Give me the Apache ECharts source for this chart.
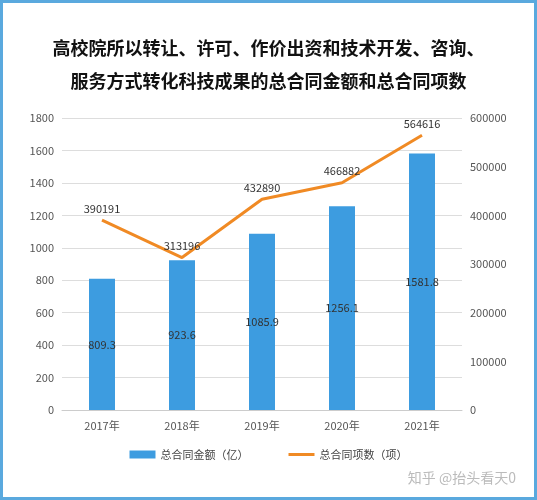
<!DOCTYPE html>
<html><head><meta charset="utf-8">
<script src="https://cdn.jsdelivr.net/npm/echarts@6/dist/echarts.min.js"></script>
<style>html,body{margin:0;padding:0;background:#fff}
#c{width:531px;height:494px;border:3px solid #5aa9de}</style></head>
<body><div id="c"></div>
<script>
const categories=['2017年','2018年','2019年','2020年','2021年'];
const amounts=[809.3,923.6,1085.9,1256.1,1581.8];
const counts=[390191,313196,432890,466882,564616];
const leftTicks=[0,1800,200];
const rightTicks=[0,600000,100000];
const ch=echarts.init(document.getElementById('c'));
const font='"Noto Sans CJK SC","Noto Sans",sans-serif';
ch.setOption({
 textStyle:{fontFamily:font},
 title:{text:'高校院所以转让、许可、作价出资和技术开发、咨询、\n服务方式转化科技成果的总合同金额和总合同项数',left:'center',top:24,
  textStyle:{fontSize:18,fontWeight:'bold',color:'#111',lineHeight:33,fontFamily:font}},
 grid:{left:59,right:72,top:115,bottom:87},
 legend:{bottom:32,itemGap:40,textStyle:{fontSize:11,color:'#444'},
  data:[{name:'总合同金额（亿）',icon:'rect'},{name:'总合同项数（项）',icon:'path://M0,0H26V3H0Z',itemStyle:{color:'#f08a24'}}],itemWidth:26,itemHeight:8},
 xAxis:{type:'category',data:categories,axisTick:{show:false},axisLine:{lineStyle:{color:'#ccc'}},
  axisLabel:{color:'#555',fontSize:11,margin:10}},
 yAxis:[{type:'value',min:leftTicks[0],max:leftTicks[1],interval:leftTicks[2],axisLabel:{color:'#555',fontSize:11,formatter:v=>String(v)},
   splitLine:{lineStyle:{color:'#ddd'}}},
  {type:'value',min:rightTicks[0],max:rightTicks[1],interval:rightTicks[2],axisLabel:{color:'#555',fontSize:11,formatter:v=>String(v)},splitLine:{show:false}}],
 series:[{name:'总合同金额（亿）',type:'bar',data:amounts,barWidth:26,itemStyle:{color:'#3d9ce0'},
   label:{show:true,position:'inside',color:'#333',fontSize:11}},
  {name:'总合同项数（项）',type:'line',yAxisIndex:1,data:counts,symbol:'circle',symbolSize:0.1,lineStyle:{color:'#f08a24',width:3},
   itemStyle:{color:'#f08a24'},label:{show:true,position:'top',distance:6,color:'#333',fontSize:11}}],
 graphic:[{type:'text',right:18,bottom:12,style:{text:'知乎 @抬头看天0',fill:'#bbb',fontSize:14,fontFamily:font}}]
});
</script></body></html>
